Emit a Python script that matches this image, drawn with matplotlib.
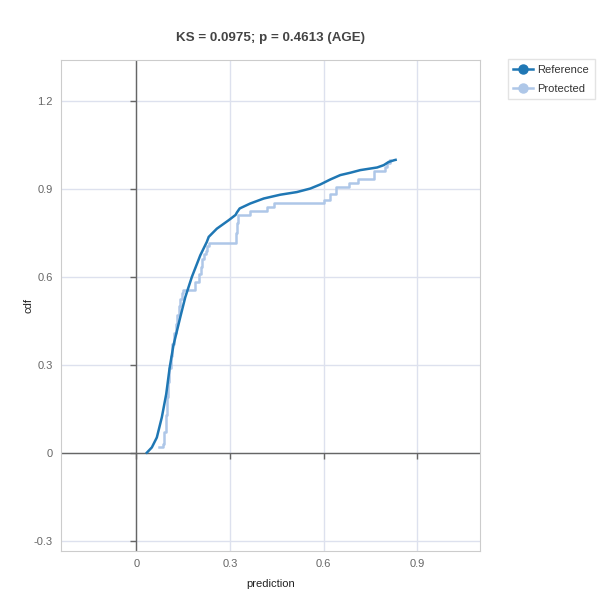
import matplotlib
matplotlib.use('Agg')
import matplotlib.pyplot as plt
from matplotlib.markers import TICKDOWN, TICKLEFT

plt.rcParams['font.family'] = ['Liberation Sans', 'DejaVu Sans']

## data
ref_x = [0.034, 0.050, 0.066, 0.082, 0.096, 0.107, 0.119, 0.141, 0.157, 0.178, 0.205, 0.226,
         0.232, 0.258, 0.296, 0.318, 0.322, 0.331, 0.365, 0.408, 0.461, 0.514, 0.557, 0.589,
         0.621, 0.653, 0.685, 0.717, 0.771, 0.792, 0.808, 0.826, 0.830]
ref_y = [0.000, 0.018, 0.052, 0.121, 0.200, 0.290, 0.366, 0.463, 0.531, 0.600, 0.674, 0.720,
         0.737, 0.765, 0.794, 0.812, 0.820, 0.834, 0.851, 0.868, 0.881, 0.890, 0.902, 0.916,
         0.933, 0.948, 0.956, 0.965, 0.974, 0.982, 0.993, 0.999, 1.000]

prot_x = [0.074, 0.085, 0.090, 0.094, 0.098, 0.102, 0.106, 0.111, 0.116, 0.121, 0.126, 0.131,
          0.136, 0.141, 0.146, 0.151, 0.189, 0.202, 0.206, 0.211, 0.216, 0.222, 0.227, 0.232,
          0.320, 0.323, 0.326, 0.363, 0.418, 0.442, 0.602, 0.621, 0.639, 0.680, 0.709, 0.762,
          0.797, 0.803, 0.811]
prot_y = [0.018, 0.030, 0.070, 0.130, 0.190, 0.240, 0.290, 0.330, 0.370, 0.410, 0.440, 0.470,
          0.500, 0.525, 0.545, 0.554, 0.583, 0.611, 0.634, 0.663, 0.680, 0.690, 0.705, 0.716,
          0.750, 0.785, 0.811, 0.826, 0.839, 0.854, 0.864, 0.882, 0.906, 0.921, 0.934, 0.961,
          0.976, 0.990, 1.000]

x_ticks = [0, 0.3, 0.6, 0.9]
y_ticks = [-0.3, 0, 0.3, 0.6, 0.9, 1.2]
title = 'KS = 0.0975; p = 0.4613 (AGE)'

dark = '#1f77b4'
light = '#aec7e8'

fig = plt.figure(figsize=(6, 6), dpi=100)
ax = fig.add_axes([0.102, 0.082, 0.698, 0.818])

ax.set_xlim(-0.24, 1.1)
ax.set_ylim(-0.335, 1.341)

# grid + zero lines
ax.set_xticks(x_ticks)
ax.set_yticks(y_ticks)
ax.grid(True, color='#dde1ee', linewidth=1)
ax.set_axisbelow(True)
ax.axhline(0, color='#666666', linewidth=1, zorder=1)
ax.axvline(0, color='#666666', linewidth=1, zorder=1)
# little tick marks sitting on the zero lines
ax.plot(x_ticks, [0]*len(x_ticks), linestyle='none', marker=TICKDOWN, markersize=4,
        color='#666666', clip_on=False, zorder=1)
ax.plot([0]*len(y_ticks), y_ticks, linestyle='none', marker=TICKLEFT, markersize=4,
        color='#666666', clip_on=False, zorder=1)

ax.tick_params(length=0, labelsize=8, labelcolor='#666666', pad=6)
ax.set_xticklabels(['0', '0.3', '0.6', '0.9'])
ax.set_yticklabels(['-0.3', '0', '0.3', '0.6', '0.9', '1.2'])
for s in ax.spines.values():
    s.set_color('#cccccc')

ax.plot(prot_x, prot_y, drawstyle='steps-post', color=light, linewidth=1.8, zorder=3)
ax.plot(ref_x, ref_y, color=dark, linewidth=1.8, zorder=4)

# legend handles with markers like the original
h1, = ax.plot([], [], color=dark, linewidth=1.8, marker='o', markersize=6.5, label='Reference')
h2, = ax.plot([], [], color=light, linewidth=1.8, marker='o', markersize=6.5, label='Protected')
leg = fig.legend(handles=[h1, h2], loc='upper left', bbox_to_anchor=(0.846, 0.901),
                 fontsize=8, frameon=True, fancybox=False, handlelength=1.8,
                 handletextpad=0.4, borderpad=0.5, labelspacing=0.8, borderaxespad=0)
leg.get_frame().set_edgecolor('#dddddd')
leg.get_frame().set_linewidth(1)
for t in leg.get_texts():
    t.set_color('#333333')

ax.set_xlabel('prediction', fontsize=8, labelpad=7, color='#222222')
ax.set_ylabel('cdf', fontsize=8, labelpad=0, color='#222222')
ax.set_title(title, fontsize=9.6, fontweight='bold', color='#444444', pad=14)

plt.savefig('out.png', dpi=100)
